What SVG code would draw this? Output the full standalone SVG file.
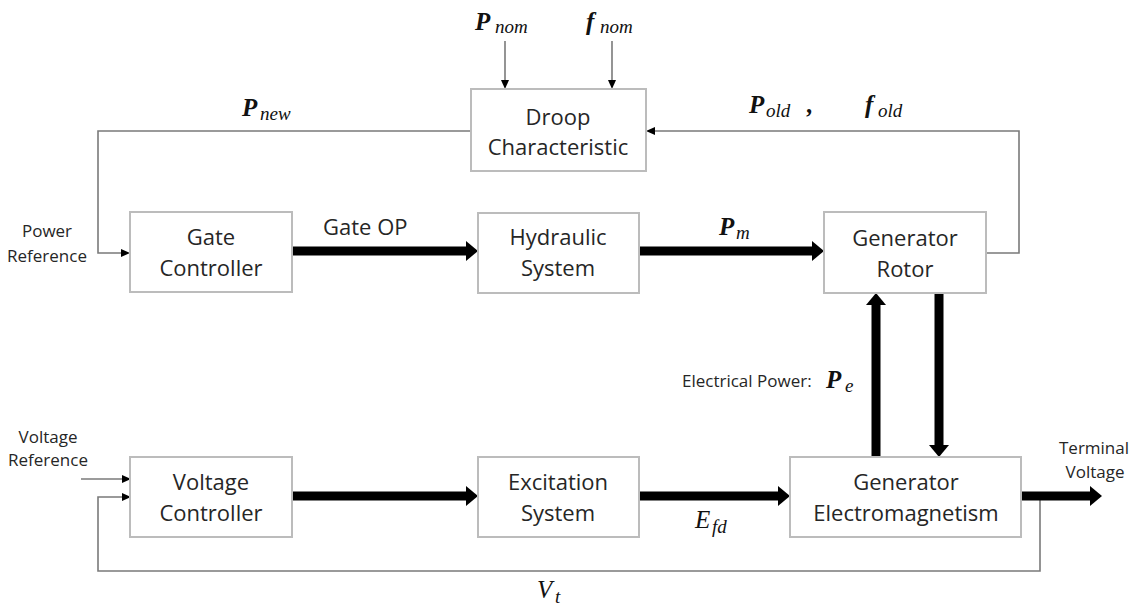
<svg xmlns="http://www.w3.org/2000/svg" width="1131" height="610" viewBox="0 0 1131 610">
  <style>
    .box { fill: #ffffff; stroke: #bcbcbc; stroke-width: 2; }
    .lbl { font-family: "Open Sans", "Liberation Sans", sans-serif; font-size: 22px; fill: #262626; text-anchor: middle; }
    .sm { font-family: "Open Sans", "Liberation Sans", sans-serif; font-size: 17px; fill: #262626; }
    .thin { fill: none; stroke: #7a7a7a; stroke-width: 1.6; }
    .thick { fill: none; stroke: #000000; stroke-width: 9; }
    .mb { font-family: "Liberation Serif", "DejaVu Serif", serif; font-weight: bold; font-style: italic; font-size: 25px; fill: #111; }
    .ms { font-family: "Liberation Serif", "DejaVu Serif", serif; font-style: italic; font-size: 19px; fill: #111; }
    .mi { font-family: "Liberation Serif", "DejaVu Serif", serif; font-style: italic; font-size: 25px; fill: #111; }
  </style>
  <defs>
    <marker id="thinHead" markerUnits="userSpaceOnUse" markerWidth="10" markerHeight="10" refX="0" refY="5" orient="auto" overflow="visible">
      <path d="M0,1 L9,5 L0,9 z" fill="#000"/>
    </marker>
    <marker id="thickHead" markerUnits="userSpaceOnUse" markerWidth="13" markerHeight="22" refX="0" refY="11" orient="auto" overflow="visible">
      <path d="M0,1 L12,11 L0,21 z" fill="#000"/>
    </marker>
  </defs>

  <rect width="1131" height="610" fill="#ffffff"/>

  <!-- connectors -->
  <g id="connectors">
    <!-- thin signal lines -->
    <path class="thin" d="M505,41 L505,80" marker-end="url(#thinHead)"/>
    <path class="thin" d="M612,41 L612,80" marker-end="url(#thinHead)"/>
    <path class="thin" d="M471,131 L98,131 L98,253 L121,253" marker-end="url(#thinHead)"/>
    <path class="thin" d="M986,253 L1019,253 L1019,131 L655,131" marker-end="url(#thinHead)"/>
    <path class="thin" d="M81,479 L122,479" marker-end="url(#thinHead)"/>
    <path class="thin" d="M1040,496 L1040,571 L98,571 L98,497 L122,497" marker-end="url(#thinHead)"/>
    <!-- thick power/signal flows -->
    <path class="thick" d="M292,251 L466,251" marker-end="url(#thickHead)"/>
    <path class="thick" d="M639,251 L812,251" marker-end="url(#thickHead)"/>
    <path class="thick" d="M292,496 L466,496" marker-end="url(#thickHead)"/>
    <path class="thick" d="M639,496 L778,496" marker-end="url(#thickHead)"/>
    <path class="thick" d="M1021,496 L1090,496" marker-end="url(#thickHead)"/>
    <path class="thick" d="M876,457 L876,305" marker-end="url(#thickHead)"/>
    <path class="thick" d="M939,293 L939,445" marker-end="url(#thickHead)"/>
  </g>

  <!-- nodes -->
  <g id="droop">
    <rect class="box" x="471" y="89" width="175" height="82"/>
    <text class="lbl" x="558" y="125">Droop</text>
    <text class="lbl" x="558" y="155">Characteristic</text>
  </g>
  <g id="gate-controller">
    <rect class="box" x="130" y="212" width="162" height="80"/>
    <text class="lbl" x="211" y="245">Gate</text>
    <text class="lbl" x="211" y="276">Controller</text>
  </g>
  <g id="hydraulic">
    <rect class="box" x="478" y="213" width="161" height="80"/>
    <text class="lbl" x="558" y="245">Hydraulic</text>
    <text class="lbl" x="558" y="276">System</text>
  </g>
  <g id="rotor">
    <rect class="box" x="824" y="212" width="162" height="81"/>
    <text class="lbl" x="905" y="246">Generator</text>
    <text class="lbl" x="905" y="277">Rotor</text>
  </g>
  <g id="voltage-controller">
    <rect class="box" x="130" y="457" width="162" height="80"/>
    <text class="lbl" x="211" y="490">Voltage</text>
    <text class="lbl" x="211" y="521">Controller</text>
  </g>
  <g id="excitation">
    <rect class="box" x="478" y="457" width="161" height="80"/>
    <text class="lbl" x="558" y="490">Excitation</text>
    <text class="lbl" x="558" y="521">System</text>
  </g>
  <g id="electromagnetism">
    <rect class="box" x="790" y="457" width="231" height="80"/>
    <text class="lbl" x="906" y="490">Generator</text>
    <text class="lbl" x="906" y="521">Electromagnetism</text>
  </g>

  <!-- signal labels -->
  <g id="labels">
    <text class="mb" x="475" y="30">P</text><text class="ms" x="495" y="33">nom</text>
    <text class="mb" x="586" y="30">f</text><text class="ms" x="600" y="33">nom</text>
    <text class="mb" x="242" y="116">P</text><text class="ms" x="260" y="120">new</text>
    <text class="mb" x="749" y="113">P</text><text class="ms" x="766" y="117">old</text>
    <text class="mb" x="807" y="113">,</text>
    <text class="mb" x="865" y="113">f</text><text class="ms" x="878" y="117">old</text>
    <text class="lbl" x="323" y="235" style="text-anchor:start">Gate OP</text>
    <text class="mb" x="719" y="235">P</text><text class="ms" x="736" y="239">m</text>
    <text class="sm" x="682" y="387">Electrical Power:</text>
    <text class="mb" x="826" y="388">P</text><text class="ms" x="845" y="392">e</text>
    <text class="mi" x="695" y="528">E</text><text class="ms" x="712" y="533">fd</text>
    <text class="mi" x="537" y="598">V</text><text class="ms" x="555" y="603">t</text>
    <text class="sm" x="47" y="237" text-anchor="middle">Power</text>
    <text class="sm" x="47" y="262" text-anchor="middle">Reference</text>
    <text class="sm" x="48" y="443" text-anchor="middle">Voltage</text>
    <text class="sm" x="48" y="466" text-anchor="middle">Reference</text>
    <text class="sm" x="1094" y="454" text-anchor="middle">Terminal</text>
    <text class="sm" x="1095" y="478" text-anchor="middle">Voltage</text>
  </g>
</svg>
